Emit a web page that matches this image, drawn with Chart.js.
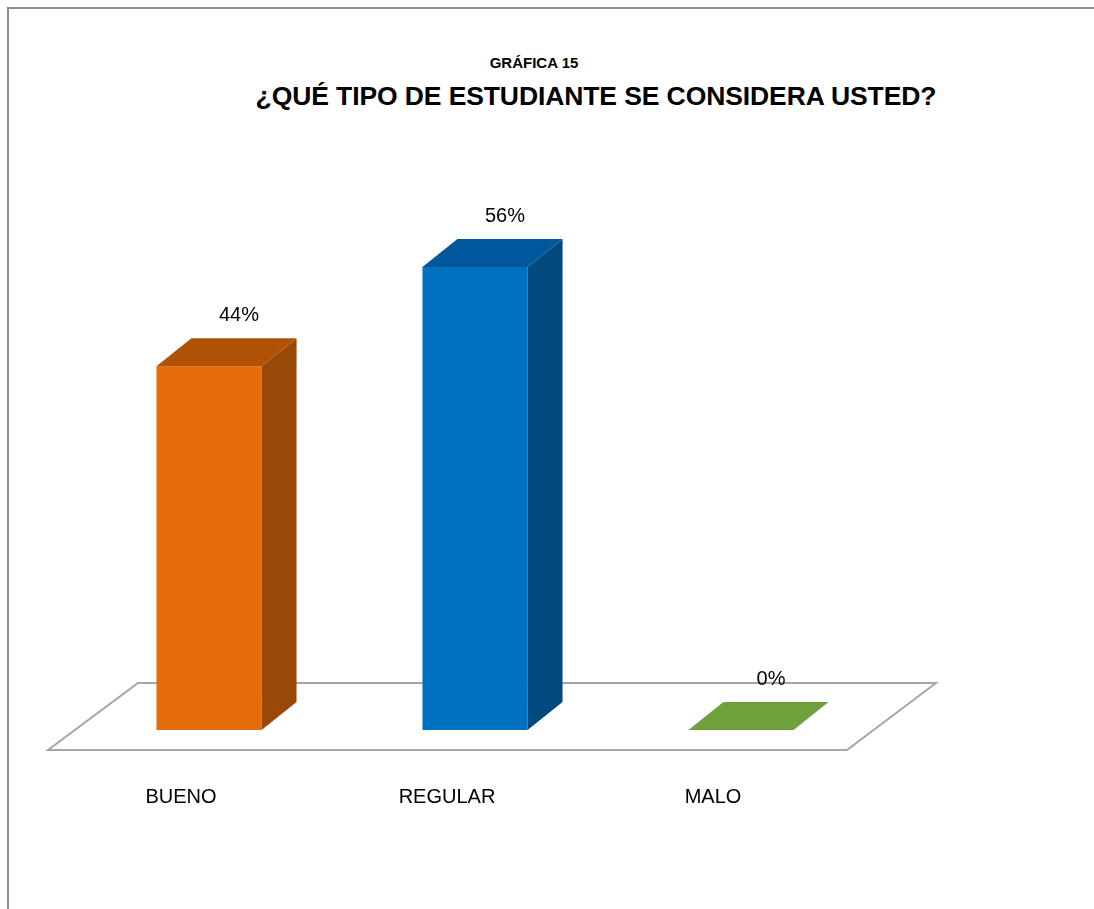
<!DOCTYPE html>
<html>
<head>
<meta charset="utf-8">
<script src="https://cdn.jsdelivr.net/npm/chart.js@4"></script>
<style>
html,body{margin:0;padding:0;background:#fff;}
#wrap{position:relative;width:1094px;height:909px;overflow:hidden;}
#frame{position:absolute;left:7px;top:7px;width:1100px;height:920px;border-top:2px solid #8c8c8c;border-left:2px solid #8c8c8c;}
#sub{position:absolute;left:434px;top:54px;width:200px;text-align:center;font:bold 15px "Liberation Sans",Arial,sans-serif;color:#000;}
#title{position:absolute;left:196px;top:81px;width:800px;text-align:center;font:bold 26.5px "Liberation Sans",Arial,sans-serif;color:#000;letter-spacing:-0.1px;}
canvas{position:absolute;left:0;top:0;}
</style>
</head>
<body>
<div id="wrap">
<div id="frame"></div>
<div id="sub">GRÁFICA 15</div>
<div id="title">¿QUÉ TIPO DE ESTUDIANTE SE CONSIDERA USTED?</div>
<canvas id="c" width="1094" height="909"></canvas>
</div>
<script>
const categories = ['BUENO', 'REGULAR', 'MALO'];
const values = [44, 56, 0];
const valueLabels = ['44%', '56%', '0%'];
const frontColors = ['#E46C0A', '#0070C0', '#70A03C'];
const topColors = ['#B05205', '#00589C', '#70A03C'];
const sideColors = ['#984807', '#004A80', '#5E8A32'];

const DX = 35, DY = -28;

const plugin3d = {
  id: 'plugin3d',
  beforeDatasetsDraw(chart) {
    const ctx = chart.ctx, a = chart.chartArea;
    // floor
    const backY = a.bottom - 47, frontY = a.bottom + 20;
    ctx.save();
    ctx.beginPath();
    ctx.moveTo(a.left + 62, backY);
    ctx.lineTo(a.right + 62, backY);
    ctx.lineTo(a.right - 27, frontY);
    ctx.lineTo(a.left - 28, frontY);
    ctx.closePath();
    ctx.fillStyle = '#ffffff';
    ctx.fill();
    ctx.strokeStyle = '#a6a6a6';
    ctx.lineWidth = 2;
    ctx.stroke();
    ctx.restore();
  },
  afterDatasetsDraw(chart) {
    const ctx = chart.ctx;
    const meta = chart.getDatasetMeta(0);
    const xs = chart.scales.x;
    ctx.save();
    meta.data.forEach((bar, i) => {
      const l = bar.x - bar.width / 2, r = bar.x + bar.width / 2;
      const t = bar.y, b = bar.base;
      if (b - t > 0) {
        ctx.beginPath();
        ctx.moveTo(r, t); ctx.lineTo(r + DX, t + DY); ctx.lineTo(r + DX, b + DY); ctx.lineTo(r, b);
        ctx.closePath();
        ctx.fillStyle = sideColors[i]; ctx.fill();
      }
      ctx.beginPath();
      ctx.moveTo(l, t); ctx.lineTo(r, t); ctx.lineTo(r + DX, t + DY); ctx.lineTo(l + DX, t + DY);
      ctx.closePath();
      ctx.fillStyle = topColors[i]; ctx.fill();
      ctx.fillStyle = '#000';
      ctx.font = '20px "Liberation Sans", Arial, sans-serif';
      ctx.textAlign = 'center';
      ctx.textBaseline = 'middle';
      ctx.fillText(valueLabels[i], bar.x + 30, t + DY - 23);
    });
    ctx.font = '20px "Liberation Sans", Arial, sans-serif';
    ctx.textAlign = 'center';
    ctx.textBaseline = 'middle';
    categories.forEach((c, i) => {
      ctx.fillText(c, xs.getPixelForValue(i) - 28, chart.chartArea.bottom + 67);
    });
    ctx.restore();
  }
};

new Chart(document.getElementById('c'), {
  type: 'bar',
  data: {
    labels: categories,
    datasets: [{
      data: values,
      backgroundColor: frontColors,
      borderWidth: 0,
      categoryPercentage: 1,
      barPercentage: 0.395
    }]
  },
  options: {
    responsive: false,
    animation: false,
    layout: { padding: { left: 76, right: 220, top: 234, bottom: 179 } },
    plugins: { legend: { display: false }, tooltip: { enabled: false }, title: { display: false } },
    scales: {
      x: { display: false },
      y: { display: false, min: 0, max: 60 }
    }
  },
  plugins: [plugin3d]
});
</script>
</body>
</html>
